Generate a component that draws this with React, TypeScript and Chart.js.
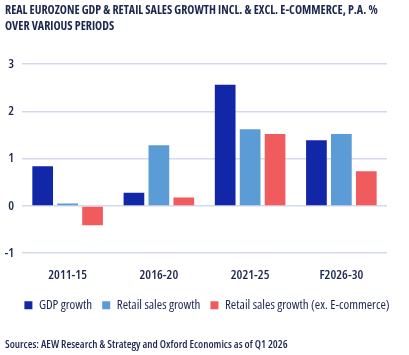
import React, { useEffect, useRef } from "react";
import { Chart, registerables } from "chart.js";

Chart.register(...registerables);

const categories = ["2011-15", "2016-20", "2021-25", "F2026-30"];
const gdpGrowth = [0.84, 0.28, 2.56, 1.39];
const retailGrowth = [0.05, 1.28, 1.62, 1.52];
const retailExEcom = [-0.41, 0.18, 1.52, 0.73];
const yTicks = [-1, 0, 1, 2, 3];
const seriesNames = ["GDP growth", "Retail sales growth", "Retail sales growth (ex. E-commerce)"];
const titleLines = [
  "REAL EUROZONE GDP & RETAIL SALES GROWTH INCL. & EXCL. E-COMMERCE, P.A. %",
  "OVER VARIOUS PERIODS",
];
const sourceText = "Sources: AEW Research & Strategy and Oxford Economics as of Q1 2026";

const FONT = "'Open Sans', 'Roboto Condensed', sans-serif";
const NAVY = "#1D2850";

export default function App() {
  const ref = useRef<HTMLCanvasElement | null>(null);
  useEffect(() => {
    document.body.style.margin = "0";
    const ctx = ref.current!;
    const chart = new Chart(ctx, {
      type: "bar",
      data: {
        labels: categories,
        datasets: [
          { label: seriesNames[0], data: gdpGrowth, backgroundColor: "#1226A8" },
          { label: seriesNames[1], data: retailGrowth, backgroundColor: "#5B9BD6" },
          { label: seriesNames[2], data: retailExEcom, backgroundColor: "#F05B5D" },
        ],
      },
      options: {
        animation: false,
        responsive: false,
        maintainAspectRatio: false,
        datasets: { bar: { categoryPercentage: 0.82, barPercentage: 0.83 } },
        layout: { padding: { left: 5, right: 0, top: 0, bottom: 4 } },
        plugins: {
          title: {
            display: true,
            text: titleLines,
            align: "start",
            color: NAVY,
            font: { family: FONT, size: 12, weight: "bold condensed", lineHeight: 1.333 },
            padding: { top: 3, bottom: 29 },
          },
          subtitle: {
            display: true,
            position: "bottom",
            text: sourceText,
            align: "start",
            color: NAVY,
            font: { family: FONT, size: 11, weight: "600 condensed", lineHeight: 1.2 },
            padding: { top: 16, bottom: 0 },
          },
          legend: {
            position: "bottom",
            labels: {
              boxWidth: 8,
              boxHeight: 8,
              padding: 10,
              color: NAVY,
              font: { family: FONT, size: 13, weight: "condensed" },
            },
          },
          tooltip: { enabled: false },
        },
        scales: {
          x: {
            grid: { display: false },
            border: { display: false },
            ticks: { color: NAVY, font: { family: FONT, size: 13, weight: "600 condensed" }, padding: 6 },
          },
          y: {
            min: -1,
            max: 3,
            afterBuildTicks: (axis: any) => {
              axis.ticks = yTicks.map((v) => ({ value: v }));
            },
            afterFit: (axis: any) => {
              axis.width = 17;
            },
            grid: { color: "#D3D9EE", lineWidth: 1.5, drawTicks: false },
            border: { display: false },
            ticks: { color: NAVY, font: { family: FONT, size: 13, weight: "600 condensed" }, padding: 8 },
          },
          yRight: {
            position: "right",
            display: true,
            grid: { display: false },
            border: { display: false },
            ticks: { display: false },
            afterFit: (axis: any) => {
              axis.width = 22;
            },
          },
        },
      },
    });
    return () => chart.destroy();
  }, []);
  return (
    <div style={{ position: "absolute", left: 0, top: 0, width: 409, height: 355 }}>
      <canvas ref={ref} width={409} height={355} style={{ width: 409, height: 355 }} />
    </div>
  );
}
